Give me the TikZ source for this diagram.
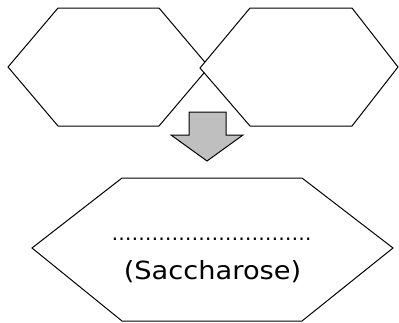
\documentclass[tikz,border=0pt]{standalone}
\usepackage{fontspec}
\setmainfont{DejaVu Sans}
\begin{document}
\begin{tikzpicture}[x=1pt,y=-1pt,
  hexa/.style={draw=black,fill=white,line width=1pt,line join=miter},
  arrowshape/.style={draw=black,fill=black!25,line width=1pt,line join=miter}]
\useasboundingbox (0,0) rectangle (399,322);
% left hexagon
\draw[hexa] (58,8) -- (159,8) -- (209,67) -- (159,126) -- (58,126) -- (8,67) -- cycle;
% right hexagon (drawn over)
\draw[hexa] (250,8) -- (352,8) -- (398,67) -- (352,126) -- (250,126) -- (200,68) -- cycle;
% arrow
\draw[arrowshape] (189,112) -- (226,112) -- (226,135) -- (243,135) -- (207,161) -- (171,135) -- (189,135) -- cycle;
% bottom hexagon
\draw[hexa] (122,178) -- (302,178) -- (393,248) -- (302,321) -- (122,321) -- (32,248) -- cycle;
\node[font=\fontsize{20}{24}\selectfont, inner sep=0] (dots) at (211.5,239) {……………………\kern0pt……};
\node[font=\fontsize{25}{30}\selectfont, inner sep=0] (name) at (212.5,272) {\scalebox{1.09}[1]{(Saccharose)}};
\end{tikzpicture}
\end{document}
